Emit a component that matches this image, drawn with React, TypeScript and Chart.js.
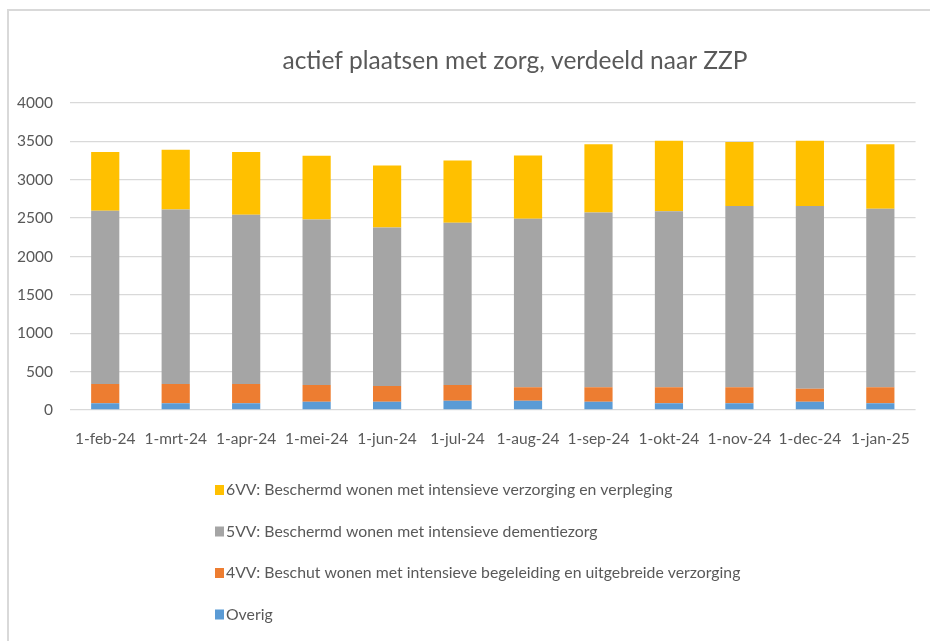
import React, { useEffect, useRef } from "react";
import { Chart, registerables } from "chart.js";

Chart.register(...registerables);

const categories = [
  "1-feb-24", "1-mrt-24", "1-apr-24", "1-mei-24", "1-jun-24", "1-jul-24",
  "1-aug-24", "1-sep-24", "1-okt-24", "1-nov-24", "1-dec-24", "1-jan-25",
];
const overig = [87, 87, 87, 108, 108, 121, 121, 108, 87, 87, 108, 87];
const vv4 = [253, 253, 253, 218, 205, 205, 175, 188, 209, 209, 170, 209];
const vv5 = [2257, 2273, 2204, 2157, 2066, 2114, 2195, 2277, 2295, 2361, 2379, 2325];
const vv6 = [765, 779, 818, 830, 808, 812, 826, 888, 918, 834, 852, 840];
const yTicks = [0, 500, 1000, 1500, 2000, 2500, 3000, 3500, 4000];

const titleText = "actief plaatsen met zorg, verdeeld naar ZZP";
const labelOverig = "Overig";
const label4 = "4VV: Beschut wonen met intensieve begeleiding en uitgebreide verzorging";
const label5 = "5VV: Beschermd wonen met intensieve dementiezorg";
const label6 = "6VV: Beschermd wonen met intensieve verzorging en verpleging";

const FONT = "Lato, 'Open Sans', sans-serif";
const TEXT = "#595959";
const GRID = "#d9d9d9";

const framePlugin = {
  id: "frame",
  beforeDraw(chart: any) {
    const ctx = chart.ctx;
    ctx.save();
    ctx.fillStyle = "#ffffff";
    ctx.fillRect(0, 0, chart.width, chart.height);
    ctx.fillStyle = GRID;
    ctx.fillRect(7, 9, 2, chart.height - 9);
    ctx.fillRect(7, 9, chart.width - 7, 2);
    ctx.restore();
  },
};

const titlePlugin = {
  id: "offsetTitle",
  afterDraw(chart: any) {
    const ctx = chart.ctx;
    ctx.save();
    ctx.font = `24.5px ${FONT}`;
    ctx.fillStyle = TEXT;
    ctx.textAlign = "center";
    ctx.textBaseline = "middle";
    ctx.fillText(titleText, 515, 61);
    ctx.restore();
  },
};

const legendPlugin = {
  id: "vlegend",
  afterDraw(chart: any) {
    const ctx = chart.ctx;
    const ds = chart.data.datasets.slice().reverse();
    const x0 = 215;
    const y0 = 490;
    const step = 41.5;
    ctx.save();
    ctx.font = `15.8px ${FONT}`;
    ctx.textBaseline = "middle";
    ctx.textAlign = "left";
    ds.forEach((d: any, i: number) => {
      const cy = y0 + i * step;
      ctx.fillStyle = d.backgroundColor;
      ctx.fillRect(x0, cy - 5, 9, 10);
      ctx.fillStyle = TEXT;
      ctx.fillText(d.label, x0 + 11, cy);
    });
    ctx.restore();
  },
};

export default function App() {
  const ref = useRef<HTMLCanvasElement | null>(null);

  useEffect(() => {
    if (!ref.current) return;
    const chart = new Chart(ref.current, {
      type: "bar",
      data: {
        labels: categories,
        datasets: [
          { label: labelOverig, data: overig, backgroundColor: "#5B9BD5" },
          { label: label4, data: vv4, backgroundColor: "#ED7D31" },
          { label: label5, data: vv5, backgroundColor: "#A5A5A5" },
          { label: label6, data: vv6, backgroundColor: "#FFC000" },
        ],
      },
      options: {
        responsive: false,
        animation: false,
        devicePixelRatio: 1,
        datasets: {
          bar: { categoryPercentage: 1, barPercentage: 0.4, borderWidth: 0 },
        },
        layout: { padding: { left: 0, right: 9, top: 103, bottom: 191 } },
        plugins: {
          legend: { display: false },
          tooltip: { enabled: false },
          title: { display: false },
        },
        scales: {
          x: {
            stacked: true,
            grid: { display: false, drawTicks: false },
            border: { display: false },
            ticks: {
              color: TEXT,
              font: { family: FONT, size: 15.5 },
              padding: 20,
              maxRotation: 0,
              autoSkip: false,
            },
            afterFit: (s: any) => { s.height = 40; },
          },
          y: {
            stacked: true,
            min: 0,
            max: 4000,
            grid: { color: GRID, lineWidth: 1.3, drawTicks: false },
            border: { display: false },
            ticks: {
              color: TEXT,
              font: { family: FONT, size: 15.5 },
              padding: 17,
              callback: (v: any) => String(v),
            },
            afterBuildTicks: (s: any) => { s.ticks = yTicks.map((v) => ({ value: v })); },
            afterFit: (s: any) => { s.width = 70; },
          },
        },
      },
      plugins: [framePlugin, titlePlugin, legendPlugin],
    });
    return () => chart.destroy();
  }, []);

  return (
    <div style={{ position: "fixed", left: 0, top: 0, width: 930, height: 641, background: "#fff" }}>
      <canvas ref={ref} width={930} height={641} style={{ display: "block" }} />
    </div>
  );
}
